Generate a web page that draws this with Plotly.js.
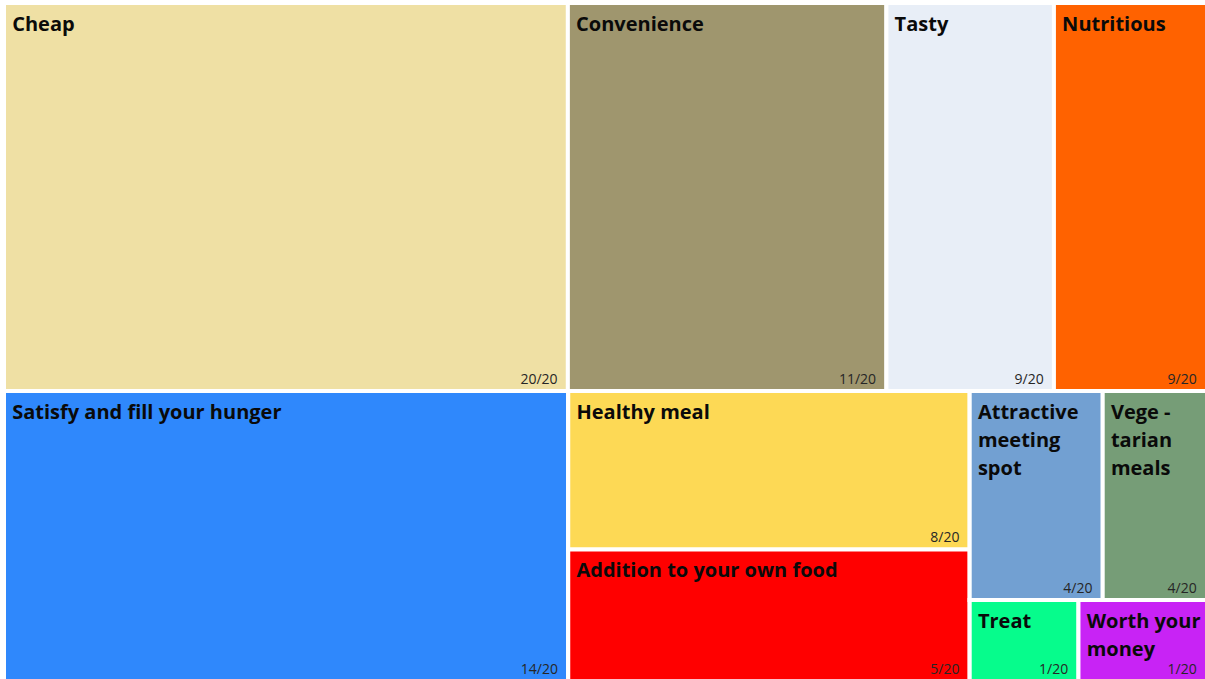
<!DOCTYPE html>
<html>
<head>
<meta charset="utf-8">
<script src="https://cdn.plot.ly/plotly-3.0.1.min.js"></script>
<style>
html,body{margin:0;padding:0;overflow:hidden;background:#fff;}
#chart{width:1210px;height:684px;}
</style>
</head>
<body>
<div id="chart"></div>
<script>
// Hierarchy (groups only control the arrangement of the tiles)
const ids = ['all','top','cheap','convenience','tasty','nutritious','bottom','satisfy','middle','healthy','addition','right','rtop','attractive','vegetarian','rbottom','treat','worth'];
const parents = ['','all','top','top','top','top','all','bottom','bottom','middle','middle','bottom','right','rtop','rtop','right','rbottom','rbottom'];
// Category names
const names = ['','','Cheap','Convenience','Tasty','Nutritious','','Satisfy and fill your hunger','','Healthy meal','Addition to your own food','','','Attractive<br>meeting<br>spot','Vege -<br>tarian<br>meals','','Treat','Worth your<br>money'];
// Scores shown in each tile (out of 20)
const scores = [null,null,20,11,9,9,null,14,null,8,5,null,null,4,4,null,1,1];
// Tile weights (relative area of each tile)
const weights = [0,0,218.8,123.6,65.0,59.4,0,163.6,0,63.6,52.8,0,0,27.8,21.8,0,8.8,10.4];
// Tile colours
const colors = ['#ffffff','#ffffff','#EFE0A4','#9F966E','#E8EEF7','#FF6200','#ffffff','#2F88FC','#ffffff','#FDD955','#FF0000','#ffffff','#ffffff','#72A0D2','#769D77','#ffffff','#06FC8C','#C823F5'];

const labelText = names.map(n => {
  if (!n) return '';
  return n.split('<br>').map((line, i) =>
    '&nbsp;<span style="baseline-shift:' + (-(4 + 2 * i)) + 'px"><b>' + line + '</b></span>'
  ).join('<br>');
});
const scoreText = scores.map(s => s === null ? '' : s + '/20&nbsp;&nbsp;');

const common = {
  type: 'treemap',
  ids: ids,
  labels: ids,
  parents: parents,
  values: weights,
  branchvalues: 'remainder',
  sort: false,
  tiling: {packing: 'dice-slice', pad: 0},
  pathbar: {visible: false},
  hoverinfo: 'none',
  textinfo: 'text'
};

const tileTrace = Object.assign({}, common, {
  text: labelText,
  textposition: 'top left',
  textfont: {family: 'Open Sans, sans-serif', size: 20, color: '#0a0a0a'},
  marker: {colors: colors, line: {color: '#ffffff', width: 4}, pad: {t: 0, l: 0, r: 0, b: 0}}
});

const scoreTrace = Object.assign({}, common, {
  text: scoreText,
  textposition: 'bottom right',
  textfont: {family: 'Open Sans, sans-serif', size: 14, color: '#262626'},
  marker: {colors: ids.map(() => 'rgba(0,0,0,0)'), line: {color: 'rgba(0,0,0,0)', width: 4}, pad: {t: 0, l: 0, r: 0, b: 0}}
});

Plotly.newPlot('chart', [tileTrace, scoreTrace], {
  width: 1210,
  height: 684,
  margin: {l: 4, r: 3, t: 3, b: 3},
  paper_bgcolor: '#ffffff',
  showlegend: false
}, {displayModeBar: false, staticPlot: true});
</script>
</body>
</html>
